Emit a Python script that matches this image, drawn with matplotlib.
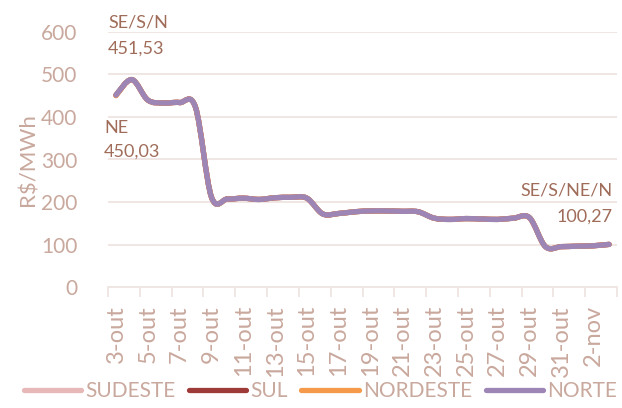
import matplotlib
matplotlib.use("Agg")
import matplotlib.pyplot as plt
from matplotlib.path import Path
from matplotlib.patches import PathPatch
from matplotlib.lines import Line2D
import numpy as np

plt.rcParams['font.family'] = ['Lato', 'DejaVu Sans']

dates = ["3-out", "4-out", "5-out", "6-out", "7-out", "8-out", "9-out", "10-out",
         "11-out", "12-out", "13-out", "14-out", "15-out", "16-out", "17-out", "18-out",
         "19-out", "20-out", "21-out", "22-out", "23-out", "24-out", "25-out", "26-out",
         "27-out", "28-out", "29-out", "30-out", "31-out", "1-nov", "2-nov", "3-nov"]

sudeste = [451.53, 488, 440, 433, 434, 423, 212, 207, 209, 206, 210, 211, 209, 172,
           173, 177, 179, 179, 178, 177, 162, 159, 161, 160, 159, 162, 163, 95,
           95, 96, 97, 100.27]
sul = list(sudeste)
nordeste = [450.03] + sudeste[1:]
norte = list(sudeste)

series = [("SUDESTE", sudeste, "#E6B8B7"),
          ("SUL", sul, "#9E3A38"),
          ("NORDESTE", nordeste, "#F59A4A"),
          ("NORTE", norte, "#9D86B6")]

tick_color = "#C9A89D"
annot_color = "#A06C5A"
grid_color = "#EFE5E3"

fig = plt.figure(figsize=(6.22, 4.08), dpi=100)
ax = fig.add_axes([108/622, 1-287/408, (617-108)/622, (287-32)/408])

def smooth_path(xs, ys):
    xs = np.asarray(xs, float); ys = np.asarray(ys, float)
    n = len(xs)
    verts = [(xs[0], ys[0])]
    codes = [Path.MOVETO]
    for i in range(n - 1):
        p0 = i - 1 if i > 0 else i
        p3 = i + 2 if i + 2 < n else i + 1
        c1 = (xs[i] + (xs[i+1] - xs[p0]) / 6, ys[i] + (ys[i+1] - ys[p0]) / 6)
        c2 = (xs[i+1] - (xs[p3] - xs[i]) / 6, ys[i+1] - (ys[p3] - ys[i]) / 6)
        verts += [c1, c2, (xs[i+1], ys[i+1])]
        codes += [Path.CURVE4] * 3
    return Path(verts, codes)

x = np.arange(len(dates))
for name, vals, col in series:
    p = smooth_path(x, vals)
    ax.add_patch(PathPatch(p, facecolor="none", edgecolor=col, lw=3.8,
                           capstyle="round", joinstyle="round", zorder=3))

ax.set_xlim(-0.5, len(dates) - 0.5)
ax.set_ylim(0, 600)
ax.set_yticks(range(0, 601, 100))
ax.yaxis.grid(True, color=grid_color, lw=1.3)
ax.set_axisbelow(True)
for s in ["top", "right", "left"]:
    ax.spines[s].set_visible(False)
ax.spines["bottom"].set_color(grid_color)
ax.spines["bottom"].set_linewidth(1.3)

ax.set_xticks(np.arange(-0.5, len(dates), 2))
ax.set_xticklabels([])
ax.set_xticks(x[::2], minor=True)
ax.set_xticklabels(dates[::2], minor=True, rotation=90, color=tick_color, fontsize=17)
ax.tick_params(axis="x", which="major", length=7, color=grid_color, width=1.3)
ax.tick_params(axis="x", which="minor", length=0, pad=13)
ax.tick_params(axis="y", length=0, labelcolor=tick_color, labelsize=15, pad=22)
ax.set_ylabel("R$/MWh", color=tick_color, fontsize=16, labelpad=2)

kw = dict(color=annot_color, fontsize=13, va="center", clip_on=False)
ax.text(-0.5, 623, "SE/S/N", ha="left", **kw)
ax.text(-0.5, 562, "451,53", ha="left", **kw)
ax.text(-0.75, 374, "NE", ha="left", **kw)
ax.text(-0.75, 318, "450,03", ha="left", **kw)
ax.text(31.2, 228, "SE/S/NE/N", ha="right", **kw)
ax.text(31.2, 165, "100,27", ha="right", **kw)

handles = [Line2D([0], [0], color=c, lw=3.8, solid_capstyle="round") for _, _, c in series]
fig.legend(handles, [n for n, _, _ in series], loc="lower center",
           bbox_to_anchor=(0.515, -0.03), ncol=4, frameon=False, fontsize=15,
           handlelength=2.75, handletextpad=0.2, columnspacing=0.65,
           labelcolor=tick_color)

fig.savefig("out.png", dpi=100)
